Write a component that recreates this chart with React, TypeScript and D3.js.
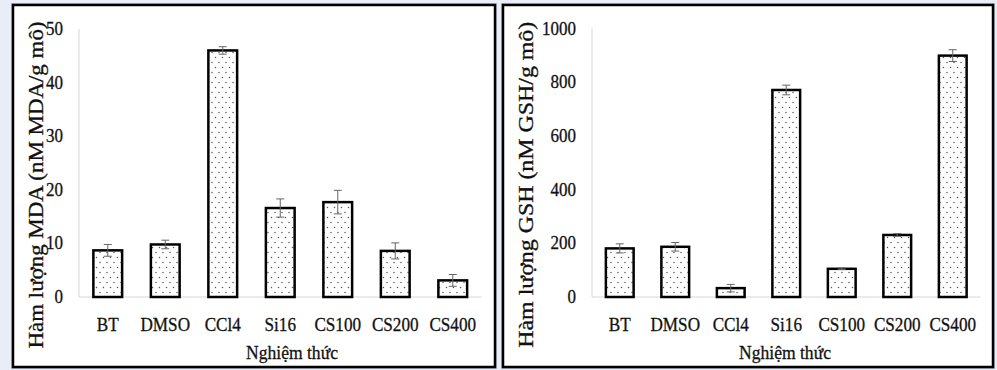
import React from "react";
import * as d3 from "d3";

// two bar panels: MDA (left) and GSH (right), same treatment groups
const categories = ["BT", "DMSO", "CCl4", "Si16", "CS100", "CS200", "CS400"];

const mdaValues = [8.7, 9.8, 46.0, 16.6, 17.7, 8.6, 3.1];
const mdaErrors = [1.1, 0.8, 0.7, 1.7, 2.2, 1.5, 1.1];
const mdaTicks = [0, 10, 20, 30, 40, 50];

const gshValues = [181, 187, 33, 771, 105, 231, 899];
const gshErrors = [17, 16, 14, 18, 3, 5, 22];
const gshTicks = [0, 200, 400, 600, 800, 1000];

const xTitle = "Nghiệm thức";
const mdaTitle = "Hàm lượng MDA (nM MDA/g mô)";
const gshTitle = "Hàm lượng GSH (nM GSH/g mô)";

const W = 997, H = 370;
const FONT = "Times New Roman, Liberation Serif, DejaVu Serif, serif";
const INK = "#111";

type PanelProps = {
  frame: [number, number, number, number];
  plot: { x0: number; x1: number; y0: number; y1: number };
  values: number[];
  errors: number[];
  ticks: number[];
  yMax: number;
  title: string;
  titleX: number;
  titleLen: number;
  xTitleX: number;
};

// the scanned figure's text is a bit heavy, a thin stroke imitates that
const textStyle = { stroke: INK, strokeWidth: 0.3 };

function Panel(props: PanelProps) {
  const { frame, plot, values, errors, ticks, yMax, title, titleX, titleLen, xTitleX } = props;

  const x = d3.scaleBand<string>()
    .domain(categories)
    .range([plot.x0, plot.x1])
    .paddingInner(0.5)
    .paddingOuter(0.25);

  const y = d3.scaleLinear().domain([0, yMax]).range([plot.y0, plot.y1]);
  const titleY = (plot.y0 + plot.y1) / 2 + 22;

  return (
    <g>
      <rect x={frame[0] - 1.5} y={frame[1] - 1.5} width={frame[2] + 3} height={frame[3] + 3}
        fill="none" stroke="#b9bcc4" strokeWidth={1} />
      <rect x={frame[0]} y={frame[1]} width={frame[2]} height={frame[3]}
        fill="#fff" stroke="#000" strokeWidth={2.5} />

      {/* axes */}
      <line x1={plot.x0} x2={plot.x0} y1={y(yMax)} y2={plot.y0} stroke="#d6d6d6" strokeWidth={1} />
      <line x1={plot.x0} x2={plot.x1} y1={plot.y0} y2={plot.y0} stroke="#d6d6d6" strokeWidth={1} />

      {ticks.map(t => (
        <text key={t} transform={`translate(${plot.x0 - 16},${y(t) + 6}) scale(0.92,1)`} textAnchor="end"
          fontFamily={FONT} fontSize={18.5} fill={INK} style={textStyle}>{t}</text>
      ))}

      {categories.map((c, i) => {
        const bx = x(c) as number;
        const bw = x.bandwidth();
        const top = y(values[i]);
        const cx = bx + bw / 2;
        return (
          <g key={c}>
            <rect x={bx} y={top} width={bw} height={plot.y0 - top}
              fill="url(#dots)" stroke="#000" strokeWidth={2.5} />
            <line x1={cx} x2={cx} y1={y(values[i] + errors[i])} y2={y(values[i] - errors[i])}
              stroke="#666" strokeWidth={1} />
            <line x1={cx - 4} x2={cx + 4} y1={y(values[i] + errors[i])} y2={y(values[i] + errors[i])}
              stroke="#666" strokeWidth={1} />
            <line x1={cx - 4} x2={cx + 4} y1={y(values[i] - errors[i])} y2={y(values[i] - errors[i])}
              stroke="#666" strokeWidth={1} />
            <text transform={`translate(${cx},331) scale(0.88,1)`} textAnchor="middle"
              fontFamily={FONT} fontSize={19.5} fill={INK} style={textStyle}>{c}</text>
          </g>
        );
      })}

      <text transform={`translate(${xTitleX},359) scale(0.9,1)`} textAnchor="middle"
        fontFamily={FONT} fontSize={19.5} fill={INK} style={textStyle}>{xTitle}</text>

      <text transform={`translate(${titleX},${titleY}) rotate(-90)`} textAnchor="middle"
        fontFamily={FONT} fontSize={20} fill={INK} style={textStyle}
        textLength={titleLen} lengthAdjust="spacingAndGlyphs">{title}</text>
    </g>
  );
}

export default function App() {
  return (
    <svg width={W} height={H} style={{ position: "absolute", left: 0, top: 0, display: "block" }}>
      <defs>
        <pattern id="dots" width={7} height={10} patternUnits="userSpaceOnUse">
          <rect width={7} height={10} fill="#fff" />
          <circle cx={2} cy={2.5} r={0.75} fill="#555" />
          <circle cx={5.5} cy={7.5} r={0.75} fill="#555" />
        </pattern>
      </defs>
      <rect width={W} height={H} fill="#e8edf7" />

      <Panel
        frame={[13, 5, 482, 362]}
        plot={{ x0: 79, x1: 481.5, y0: 297, y1: 29 }}
        values={mdaValues}
        errors={mdaErrors}
        ticks={mdaTicks}
        yMax={50}
        title={mdaTitle}
        titleX={43}
        titleLen={327}
        xTitleX={292}
      />
      <Panel
        frame={[503, 5, 490, 362]}
        plot={{ x0: 592, x1: 980.5, y0: 297, y1: 28.5 }}
        values={gshValues}
        errors={gshErrors}
        ticks={gshTicks}
        yMax={1000}
        title={gshTitle}
        titleX={533}
        titleLen={326}
        xTitleX={785}
      />
    </svg>
  );
}
